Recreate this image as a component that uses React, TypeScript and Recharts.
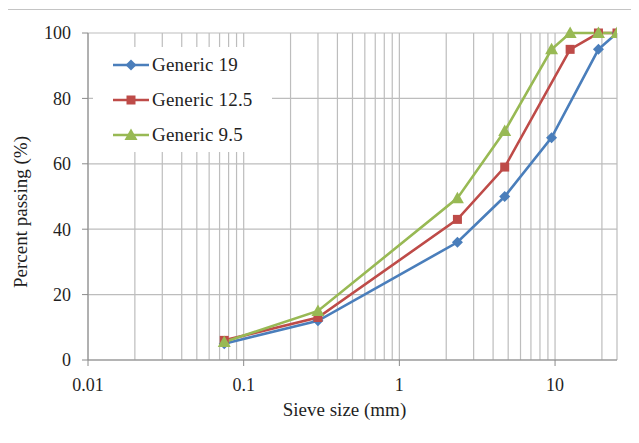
import React from "react";
import { CartesianGrid, Legend, Line, LineChart, XAxis, YAxis } from "recharts";

// sieve sizes (mm) and percent passing for each gradation
const sizes19 = [0.075, 0.3, 2.36, 4.75, 9.5, 19, 25];
const passing19 = [5, 12, 36, 50, 68, 95, 100];

const sizes125 = [0.075, 0.3, 2.36, 4.75, 12.5, 19, 25];
const passing125 = [6, 13, 43, 59, 95, 100, 100];

const sizes95 = [0.075, 0.3, 2.36, 4.75, 9.5, 12.5, 19, 25];
const passing95 = [5.5, 15, 49.5, 70, 95, 100, 100, 100];

const xMajorTicks = [0.01, 0.1, 1, 10];
const xGridTicks = [
  0.01, 0.02, 0.03, 0.04, 0.05, 0.06, 0.07, 0.08, 0.09,
  0.1, 0.2, 0.3, 0.4, 0.5, 0.6, 0.7, 0.8, 0.9,
  1, 2, 3, 4, 5, 6, 7, 8, 9,
  10, 20, 25,
];
const yTicks = [0, 20, 40, 60, 80, 100];

const toRows = (xs: number[], ys: number[]) =>
  xs.map((size, i) => ({ size, pct: ys[i] }));

const BLUE = "#4a7ebb";
const RED = "#be4b48";
const GREEN = "#98b954";
const FONT = '"Liberation Serif", "DejaVu Serif", serif';
const TEXT = "#1f1f1f";

const series = [
  { name: "Generic 19", color: BLUE, shape: "diamond", data: toRows(sizes19, passing19) },
  { name: "Generic 12.5", color: RED, shape: "square", data: toRows(sizes125, passing125) },
  { name: "Generic 9.5", color: GREEN, shape: "triangle", data: toRows(sizes95, passing95) },
];

function Marker({ cx, cy, shape, color }: { cx: number; cy: number; shape: string; color: string }) {
  if (shape === "diamond") {
    return (
      <polygon
        points={`${cx},${cy - 5.5} ${cx + 5.5},${cy} ${cx},${cy + 5.5} ${cx - 5.5},${cy}`}
        fill={color}
      />
    );
  }
  if (shape === "square") {
    return <rect x={cx - 4.5} y={cy - 4.5} width={9} height={9} fill={color} />;
  }
  return (
    <polygon
      points={`${cx},${cy - 6.5} ${cx + 6.5},${cy + 5} ${cx - 6.5},${cy + 5}`}
      fill={color}
    />
  );
}

function LegendBox() {
  return (
    <div style={{ width: 179, height: 105, background: "#fff" }}>
      {series.map((s, i) => (
        <div
          key={s.name}
          style={{
            position: "absolute",
            left: 20,
            top: 8 + i * 35,
            height: 20,
            display: "flex",
            alignItems: "center",
          }}
        >
          <svg width={36} height={20}>
            <line x1={0} y1={10} x2={36} y2={10} stroke={s.color} strokeWidth={2.5} />
            <Marker cx={18} cy={10} shape={s.shape} color={s.color} />
          </svg>
          <span
            style={{
              marginLeft: 3,
              fontFamily: FONT,
              fontSize: 19,
              letterSpacing: 0.2,
              color: TEXT,
              whiteSpace: "nowrap",
            }}
          >
            {s.name}
          </span>
        </div>
      ))}
    </div>
  );
}

export default function App() {
  return (
    <div
      style={{
        position: "relative",
        margin: -8,
        width: 639,
        height: 443,
        overflow: "hidden",
        background: "#fff",
      }}
    >
      <div
        style={{
          position: "absolute",
          left: 5,
          top: 9,
          width: 700,
          height: 500,
          border: "1.5px solid #c4c4c4",
        }}
      />
      <LineChart
        width={639}
        height={443}
        margin={{ top: 33, right: 22, bottom: 0, left: 0 }}
        style={{ position: "absolute", left: 0, top: 0 }}
      >
        <XAxis
          xAxisId="grid"
          dataKey="size"
          type="number"
          scale="log"
          domain={[0.01, 25]}
          allowDataOverflow
          ticks={xGridTicks}
          interval={0}
          hide
        />
        <CartesianGrid xAxisId="grid" stroke="#bdbdbd" strokeWidth={1.2} />
        <XAxis
          dataKey="size"
          type="number"
          scale="log"
          domain={[0.01, 25]}
          allowDataOverflow
          ticks={xMajorTicks}
          interval={0}
          tickFormatter={(v) => String(v)}
          height={83}
          stroke="#8a8a8a"
          tickSize={6}
          tickMargin={12}
          tick={{ fill: TEXT, fontSize: 18, fontFamily: FONT }}
          label={{
            content: ({ viewBox }: any) => (
              <text
                x={viewBox.x + viewBox.width / 2 - 8}
                y={viewBox.y + 56}
                textAnchor="middle"
                fontFamily={FONT}
                fontSize={19}
                fill={TEXT}
              >
                Sieve size (mm)
              </text>
            ),
          }}
        />
        <YAxis
          type="number"
          domain={[0, 100]}
          ticks={yTicks}
          interval={0}
          width={88}
          stroke="#8a8a8a"
          tickSize={6}
          tickMargin={11}
          tick={{ fill: TEXT, fontSize: 18, fontFamily: FONT }}
          label={{
            content: () => (
              <text
                x={20}
                y={212}
                transform="rotate(-90 20 212)"
                textAnchor="middle"
                dominantBaseline="central"
                fontFamily={FONT}
                fontSize={19}
                fill={TEXT}
              >
                Percent passing (%)
              </text>
            ),
          }}
        />
        <Legend
          layout="horizontal"
          verticalAlign="middle"
          align="center"
          width={179}
          height={105}
          wrapperStyle={{ left: 93, top: 47, width: 179, height: 105 }}
          content={() => <LegendBox />}
        />
        {series.map((s) => (
          <Line
            key={s.name}
            name={s.name}
            data={s.data}
            dataKey="pct"
            stroke={s.color}
            strokeWidth={2.6}
            isAnimationActive={false}
            dot={(p: any) => (
              <Marker key={`${s.name}-${p.index}`} cx={p.cx} cy={p.cy} shape={s.shape} color={s.color} />
            )}
            activeDot={false}
          />
        ))}
      </LineChart>
    </div>
  );
}
